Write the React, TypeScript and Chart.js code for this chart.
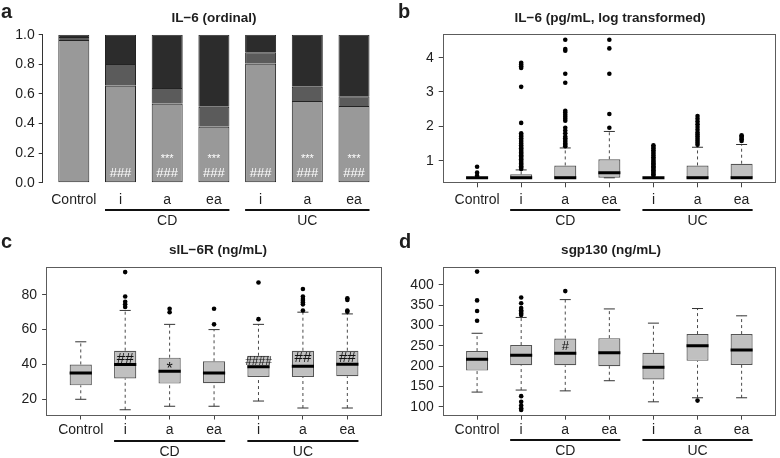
import React, { useEffect, useRef } from "react";
import { Chart, registerables } from "chart.js";
Chart.register(...registerables);

const FONT = "'Liberation Sans', Arial, Helvetica, sans-serif";
const TEXT = "#1e1e1e";

// ---------- shared categories ----------
const CATEGORIES = ["Control", "i", "a", "ea", "i", "a", "ea"];
const GROUP_NAMES = ["CD", "UC"];
const GROUP_MEMBERS = [[1, 2, 3], [4, 5, 6]];

// ---------- panel a: IL-6 (ordinal), stacked proportions ----------
const A_LOW = [0.965, 0.655, 0.533, 0.378, 0.804, 0.553, 0.518];
const A_MID = [0.02, 0.148, 0.107, 0.135, 0.078, 0.095, 0.066];
const A_HIGH = [0.015, 0.197, 0.36, 0.487, 0.118, 0.352, 0.416];
const A_HASH = ["", "###", "###", "###", "###", "###", "###"];
const A_STAR = ["", "", "***", "***", "", "***", "***"];
const A_Y_TICKS = [0, 0.2, 0.4, 0.6, 0.8, 1.0];

// ---------- panel b: IL-6 (pg/mL, log transformed) ----------
const B_WLO = [0.5, 0.5, 0.5, 0.5, 0.5, 0.5, 0.5];
const B_Q1 = [0.5, 0.5, 0.5, 0.5, 0.5, 0.5, 0.5];
const B_MED = [0.5, 0.5, 0.5, 0.65, 0.5, 0.5, 0.5];
const B_Q3 = [0.5, 0.6, 0.86, 1.04, 0.5, 0.86, 0.91];
const B_WHI = [0.5, 0.73, 1.37, 1.85, 0.5, 1.39, 1.47];
const B_OUT = [
  [0.56, 0.65, 0.82],
  [0.76, 0.8, 0.84, 0.88, 0.92, 0.96, 1.0, 1.04, 1.08, 1.12, 1.16, 1.2, 1.24, 1.28, 1.32, 1.36, 1.4, 1.45, 1.5, 1.55, 1.6, 1.65, 1.7, 1.75, 1.8, 2.1, 3.15, 3.7, 3.75, 3.8, 3.85],
  [1.42, 1.46, 1.5, 1.55, 1.6, 1.65, 1.7, 1.8, 1.88, 1.96, 2.16, 2.22, 2.28, 2.34, 2.4, 2.45, 3.27, 3.53, 4.2, 4.25, 4.52],
  [1.96, 2.36, 3.53, 4.27, 4.52],
  [0.56, 0.6, 0.64, 0.68, 0.72, 0.76, 0.8, 0.84, 0.88, 0.92, 0.96, 1.0, 1.05, 1.1, 1.15, 1.2, 1.25, 1.3, 1.35, 1.4, 1.45],
  [1.46, 1.52, 1.58, 1.64, 1.7, 1.76, 1.82, 1.9, 1.98, 2.06, 2.14, 2.22, 2.3],
  [1.57, 1.62, 1.66, 1.7, 1.74],
];
const B_MARKS = ["", "", "", "", "", "", ""];
const B_MARK_Y = [0, 0, 0, 0, 0, 0, 0];
const B_Y_TICKS = [1, 2, 3, 4];

// ---------- panel c: sIL-6R (ng/mL) ----------
const C_WLO = [20, 14, 16, 16, 19, 15, 15];
const C_Q1 = [28, 32, 29, 29.2, 32.8, 32.8, 33.2];
const C_MED = [35.1, 40, 36.1, 35.1, 38.7, 39, 40.1];
const C_Q3 = [40, 47.9, 43.9, 41.8, 45, 47.9, 47.9];
const C_WHI = [53, 71, 63, 60, 63, 70, 69];
const C_OUT = [
  [],
  [73, 74.5, 76, 79, 93],
  [70, 72],
  [63, 72],
  [66, 87],
  [71, 74.5, 75.5, 76.5, 77.5, 79, 83.3],
  [70.3, 71, 77, 78],
];
const C_MARKS = ["", "##", "*", "", "####", "##", "##"];
const C_MARK_Y = [0, 44, 39.5, 0, 42, 44.3, 44.5];
const C_Y_TICKS = [20, 40, 60, 80];

// ---------- panel d: sgp130 (ng/mL) ----------
const D_WLO = [136, 141, 139, 164, 112, 122, 122];
const D_Q1 = [189, 202, 202, 200, 167, 213, 203];
const D_MED = [217, 227, 232, 233, 197, 250, 240];
const D_Q3 = [237, 252, 268, 269, 233, 279, 279];
const D_WHI = [281, 320, 364, 341, 306, 342, 324];
const D_OUT = [
  [312, 336, 362, 433],
  [92, 96, 103, 112, 126, 326, 330, 334, 338, 343, 355, 369],
  [385],
  [],
  [],
  [115],
  [],
];
const D_MARKS = ["", "", "#", "", "", "", ""];
const D_MARK_Y = [0, 0, 251, 0, 0, 0, 0];
const D_Y_TICKS = [100, 150, 200, 250, 300, 350, 400];

const BOX_POS = [1, 2, 3, 4, 5, 6, 7];
const BAR_POS = [0, 1, 2, 3, 4, 5, 6];

const W = 390;
const H = 229;

type Area = { left: number; top: number; right: number; bottom: number };
type Decor = {
  letter: string; letterX: number; letterY: number;
  title: string; titleX: number; titleY: number;
  lineY: number; groupY: number;
  pos: number[]; half: number; frame: boolean;
};

function decorPlugin(d: Decor) {
  return {
    id: "decor",
    afterDraw(chart: any) {
      const ctx = chart.ctx;
      const xs = chart.scales.x;
      const ca = chart.chartArea;
      ctx.save();
      if (d.frame) {
        ctx.strokeStyle = "#5c5c5c";
        ctx.lineWidth = 1;
        const l = Math.round(ca.left) + 0.5, t = Math.round(ca.top) + 0.5;
        const r = Math.round(ca.right) - 0.5, b = Math.round(ca.bottom) - 0.5;
        ctx.strokeRect(l, t, r - l, b - t);
      }
      ctx.fillStyle = TEXT;
      ctx.textAlign = "left";
      ctx.textBaseline = "alphabetic";
      ctx.font = `bold 20px ${FONT}`;
      ctx.fillText(d.letter, d.letterX, d.letterY);
      ctx.textAlign = "center";
      ctx.textBaseline = "middle";
      ctx.font = `bold 13.5px ${FONT}`;
      ctx.fillText(d.title, d.titleX, d.titleY);
      GROUP_MEMBERS.forEach((m, g) => {
        const x1 = xs.getPixelForValue(d.pos[m[0]] - d.half);
        const x2 = xs.getPixelForValue(d.pos[m[m.length - 1]] + d.half);
        ctx.strokeStyle = "#111";
        ctx.lineWidth = 2;
        ctx.beginPath();
        ctx.moveTo(x1, d.lineY);
        ctx.lineTo(x2, d.lineY);
        ctx.stroke();
        ctx.font = `14px ${FONT}`;
        ctx.fillText(GROUP_NAMES[g], (x1 + x2) / 2, d.groupY);
      });
      ctx.restore();
    },
  };
}

function marksPlugin(pos: number[], marks: string[], markY: number[], color: string, sizes: (s: string) => number) {
  return {
    id: "marks",
    afterDatasetsDraw(chart: any) {
      const ctx = chart.ctx;
      const xs = chart.scales.x;
      const ys = chart.scales.y;
      ctx.save();
      ctx.fillStyle = color;
      ctx.textAlign = "center";
      ctx.textBaseline = "alphabetic";
      marks.forEach((m, i) => {
        if (!m) return;
        const size = sizes(m);
        ctx.font = `${size}px ${FONT}`;
        const k = m[0] === "*" ? 0.57 : 0.35;
        const x = xs.getPixelForValue(pos[i]);
        const y = ys.getPixelForValue(markY[i]);
        ctx.fillText(m, x, y + k * size);
      });
      ctx.restore();
    },
  };
}

function axisCommon(area: Area) {
  return {
    responsive: false,
    animation: false as const,
    events: [] as any[],
    layout: { padding: { top: area.top, right: W - area.right, bottom: 0, left: 0 } },
    plugins: { legend: { display: false }, tooltip: { enabled: false }, title: { display: false } },
  };
}

function configA() {
  const area: Area = { left: 42.7, top: 34.8, right: 389.7, bottom: 182.7 };
  const unit = 46.7;
  const xmin = -(73.8 - area.left) / unit;
  const xmax = xmin + (area.right - area.left) / unit;
  const mk = (vals: number[], color: string, bottom: number) => ({
    data: vals.map((v, i) => ({ x: BAR_POS[i], y: v })),
    backgroundColor: color,
    borderColor: "#232323",
    borderWidth: { top: 1, left: 1, right: 1, bottom },
    borderSkipped: false,
    barPercentage: 31 / unit,
    categoryPercentage: 1,
  });
  return {
    type: "bar" as const,
    data: {
      datasets: [mk(A_LOW, "#999999", 1), mk(A_MID, "#5b5b5b", 0), mk(A_HIGH, "#2c2c2c", 0)],
    },
    options: {
      ...axisCommon(area),
      scales: {
        x: {
          type: "linear" as const,
          stacked: true,
          offset: false,
          min: xmin,
          max: xmax,
          afterFit: (s: any) => { s.height = H - area.bottom; },
          afterBuildTicks: (s: any) => { s.ticks = BAR_POS.map((v) => ({ value: v })); },
          grid: { display: false, drawTicks: false, offset: false },
          border: { display: false },
          ticks: {
            autoSkip: false, maxRotation: 0, padding: 8.9, color: TEXT,
            font: { family: FONT, size: 14 },
            callback: (v: any) => CATEGORIES[Math.round(v)] ?? "",
          },
        },
        y: {
          stacked: true,
          min: 0,
          max: 1,
          afterFit: (s: any) => { s.width = area.left; },
          afterBuildTicks: (s: any) => { s.ticks = A_Y_TICKS.map((v) => ({ value: v })); },
          grid: { display: true, drawOnChartArea: false, drawTicks: true, tickLength: 4, color: "#333" },
          border: { display: true, color: "#333", width: 1 },
          ticks: {
            padding: 4, color: TEXT, font: { family: FONT, size: 14 },
            callback: (v: any) => Number(v).toFixed(1),
          },
        },
      },
    },
    plugins: [
      decorPlugin({
        letter: "a", letterX: 1, letterY: 18.3,
        title: "IL\u22126 (ordinal)", titleX: 214, titleY: 18.3,
        lineY: 210, groupY: 221, pos: BAR_POS, half: 15.5 / unit, frame: false,
      }),
      marksPlugin(BAR_POS, A_HASH, A_HASH.map(() => 0.068), "#ffffff", () => 13),
      marksPlugin(BAR_POS, A_STAR, A_STAR.map(() => 0.18), "#ffffff", () => 11),
    ],
  };
}

type BoxPanel = {
  wlo: number[]; q1: number[]; med: number[]; q3: number[]; whi: number[]; out: number[][];
  marks: string[]; markY: number[]; yTicks: number[]; yMin: number; yMax: number;
  area: Area; tickPad: number; decor: Omit<Decor, "pos" | "half" | "frame">;
};

function boxConfig(p: BoxPanel) {
  const area = p.area;
  const boxes: any[] = [];
  const med: any[] = [];
  const wh: any[] = [];
  const caps: any[] = [];
  const out: any[] = [];
  BOX_POS.forEach((x, i) => {
    boxes.push({ x, y: [p.q1[i], p.q3[i]] });
    med.push({ x: x - 0.25, y: p.med[i] }, { x: x + 0.25, y: p.med[i] }, { x, y: null });
    wh.push({ x, y: p.q3[i] }, { x, y: p.whi[i] }, { x, y: null }, { x, y: p.wlo[i] }, { x, y: p.q1[i] }, { x, y: null });
    caps.push(
      { x: x - 0.125, y: p.whi[i] }, { x: x + 0.125, y: p.whi[i] }, { x, y: null },
      { x: x - 0.125, y: p.wlo[i] }, { x: x + 0.125, y: p.wlo[i] }, { x, y: null },
    );
    p.out[i].forEach((v) => out.push({ x, y: v }));
  });
  return {
    type: "bar" as const,
    data: {
      datasets: [
        {
          type: "bar" as const, data: boxes, backgroundColor: "#c0c0c0", borderColor: "#555555",
          borderWidth: 1.2, borderSkipped: false, barPercentage: 0.5, categoryPercentage: 1, order: 5,
        },
        {
          type: "line" as const, data: wh, borderColor: "#4a4a4a", borderWidth: 1, borderDash: [3, 3],
          pointRadius: 0, spanGaps: false, order: 4,
        },
        {
          type: "line" as const, data: caps, borderColor: "#333333", borderWidth: 1,
          pointRadius: 0, spanGaps: false, order: 3,
        },
        {
          type: "line" as const, data: med, borderColor: "#000000", borderWidth: 3, borderCapStyle: "butt",
          pointRadius: 0, spanGaps: false, order: 2,
        },
        {
          type: "line" as const, data: out, showLine: false, pointRadius: 2.3, pointBorderWidth: 0,
          pointBackgroundColor: "#000000", pointBorderColor: "#000000", order: 1,
        },
      ],
    },
    options: {
      ...axisCommon(area),
      scales: {
        x: {
          type: "linear" as const,
          offset: false,
          min: 0.22,
          max: 7.78,
          afterFit: (s: any) => { s.height = H - area.bottom; },
          afterBuildTicks: (s: any) => { s.ticks = BOX_POS.map((v) => ({ value: v })); },
          grid: { display: true, offset: false, drawOnChartArea: false, drawTicks: true, tickLength: 4, color: "#444" },
          border: { display: false },
          ticks: {
            autoSkip: false, maxRotation: 0, padding: p.tickPad, color: TEXT,
            font: { family: FONT, size: 14 },
            callback: (v: any) => CATEGORIES[Math.round(v) - 1] ?? "",
          },
        },
        y: {
          type: "linear" as const,
          min: p.yMin,
          max: p.yMax,
          afterFit: (s: any) => { s.width = area.left; },
          afterBuildTicks: (s: any) => { s.ticks = p.yTicks.map((v) => ({ value: v })); },
          grid: { display: true, drawOnChartArea: false, drawTicks: true, tickLength: 4, color: "#444" },
          border: { display: false },
          ticks: { padding: 5, color: TEXT, font: { family: FONT, size: 14 }, callback: (v: any) => String(v) },
        },
      },
    },
    plugins: [
      decorPlugin({ ...p.decor, pos: BOX_POS, half: 0.25, frame: true }),
      marksPlugin(BOX_POS, p.marks, p.markY, "#111111", (m) => (m === "*" ? 16 : m.length > 3 ? 12 : m.length > 1 ? 15 : 13)),
    ],
  };
}

const PANEL_B: BoxPanel = {
  wlo: B_WLO, q1: B_Q1, med: B_MED, q3: B_Q3, whi: B_WHI, out: B_OUT,
  marks: B_MARKS, markY: B_MARK_Y, yTicks: B_Y_TICKS, yMin: 0.34, yMax: 4.68,
  area: { left: 52.7, top: 34.3, right: 389.2, bottom: 183.3 }, tickPad: 4,
  decor: { letter: "b", letterX: 8, letterY: 18.3, title: "IL\u22126 (pg/mL, log transformed)", titleX: 220, titleY: 18.3, lineY: 210, groupY: 221.5 },
};

const PANEL_C: BoxPanel = {
  wlo: C_WLO, q1: C_Q1, med: C_MED, q3: C_Q3, whi: C_WHI, out: C_OUT,
  marks: C_MARKS, markY: C_MARK_Y, yTicks: C_Y_TICKS, yMin: 10.7, yMax: 96.1,
  area: { left: 46.1, top: 37.7, right: 382, bottom: 186.5 }, tickPad: 2.5,
  decor: { letter: "c", letterX: 1, letterY: 19, title: "sIL\u22126R (ng/mL)", titleX: 218, titleY: 21.5, lineY: 212, groupY: 223 },
};

const PANEL_D: BoxPanel = {
  wlo: D_WLO, q1: D_Q1, med: D_MED, q3: D_Q3, whi: D_WHI, out: D_OUT,
  marks: D_MARKS, markY: D_MARK_Y, yTicks: D_Y_TICKS, yMin: 77.8, yMax: 445.1,
  area: { left: 52.7, top: 37.7, right: 389.2, bottom: 186.7 }, tickPad: 2.5,
  decor: { letter: "d", letterX: 9, letterY: 18.5, title: "sgp130 (ng/mL)", titleX: 221, titleY: 21.5, lineY: 211, groupY: 222.5 },
};

const canvasStyle = (left: number, top: number): React.CSSProperties => ({
  position: "absolute", left, top, width: W, height: H, display: "block",
});

export default function App() {
  const aRef = useRef<HTMLCanvasElement>(null);
  const bRef = useRef<HTMLCanvasElement>(null);
  const cRef = useRef<HTMLCanvasElement>(null);
  const dRef = useRef<HTMLCanvasElement>(null);

  useEffect(() => {
    const charts = [
      new Chart(aRef.current as HTMLCanvasElement, configA() as any),
      new Chart(bRef.current as HTMLCanvasElement, boxConfig(PANEL_B) as any),
      new Chart(cRef.current as HTMLCanvasElement, boxConfig(PANEL_C) as any),
      new Chart(dRef.current as HTMLCanvasElement, boxConfig(PANEL_D) as any),
    ];
    return () => charts.forEach((c) => c.destroy());
  }, []);

  return (
    <div style={{ position: "absolute", left: 0, top: 0, width: 780, height: 458, background: "#ffffff", overflow: "hidden" }}>
      <canvas ref={aRef} width={W} height={H} style={canvasStyle(0, 0)} />
      <canvas ref={bRef} width={W} height={H} style={canvasStyle(390, 0)} />
      <canvas ref={cRef} width={W} height={H} style={canvasStyle(0, 229)} />
      <canvas ref={dRef} width={W} height={H} style={canvasStyle(390, 229)} />
    </div>
  );
}
